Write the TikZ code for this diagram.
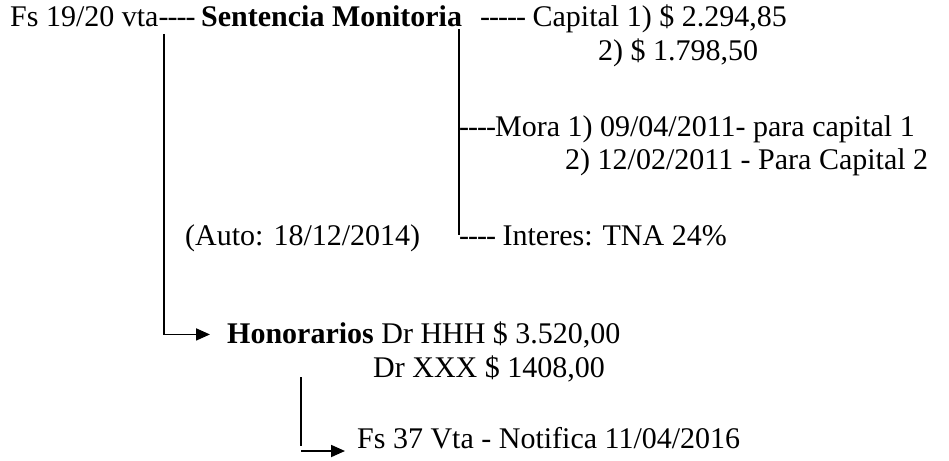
\documentclass[tikz,border=0pt]{standalone}
\usepackage{fontspec}
\setmainfont{Liberation Serif}
\usetikzlibrary{arrows.meta}

% guion suelto (sin ligadura -- / ---)
\newcommand{\gu}{-\kern-1pt}

\tikzset{
  txt/.style={anchor=base west, inner sep=0pt, font=\fontsize{30}{36}\selectfont},
  lin/.style={line width=1.8pt},
  arr/.style={line width=1.8pt, -{Triangle[length=14pt,width=12pt]}}
}

\begin{document}
\begin{tikzpicture}[x=1pt,y=-1pt]
\useasboundingbox (0,0) rectangle (949,460);

% fila superior
\node[txt] (fs) at (10,27) {Fs 19/20 vta\gu\gu\gu\gu};
\node[txt] (sent) at (201,27) {\textbf{Sentencia Monitoria}};
\node[txt] (cap) at (480,27) {\gu\gu\gu\gu\gu{} Capital 1) \$ 2.294,85};
\node[txt] (cap2) at (598,60) {2) \$ 1.798,50};

% mora e interes
\node[txt] (mora) at (459,136) {\gu\gu\gu\gu Mora 1) 09/04/2011- para capital 1};
\node[txt] (mora2) at (565,169) {2) 12/02/2011 - Para Capital 2};
\node[txt] (auto) at (185,245) {(Auto: 18/12/2014)};
\node[txt] (int) at (459,245) {\gu\gu\gu\gu{} Interes: TNA 24\%};

% honorarios
\node[txt] (hon) at (227,343) {\textbf{Honorarios} Dr HHH \$ 3.520,00};
\node[txt] (hon2) at (373,377) {Dr XXX \$ 1408,00};
\node[txt] (notif) at (357,448) {Fs 37 Vta - Notifica 11/04/2016};

\coordinate (l1) at (164,34);
\coordinate (l2) at (459,29);
\coordinate (l3a) at (301,377);
\coordinate (l3b) at (301,446);
\coordinate (l3c) at (301,451);

\draw[arr, shorten >=17pt] (l1) |- (hon.west);
\draw[lin] (l2) -- (l2 |- int.west);
\draw[lin] (l3a) -- (l3b);
\draw[arr, shorten >=12pt] (l3c) -- (l3c -| notif.west);
\end{tikzpicture}
\end{document}
